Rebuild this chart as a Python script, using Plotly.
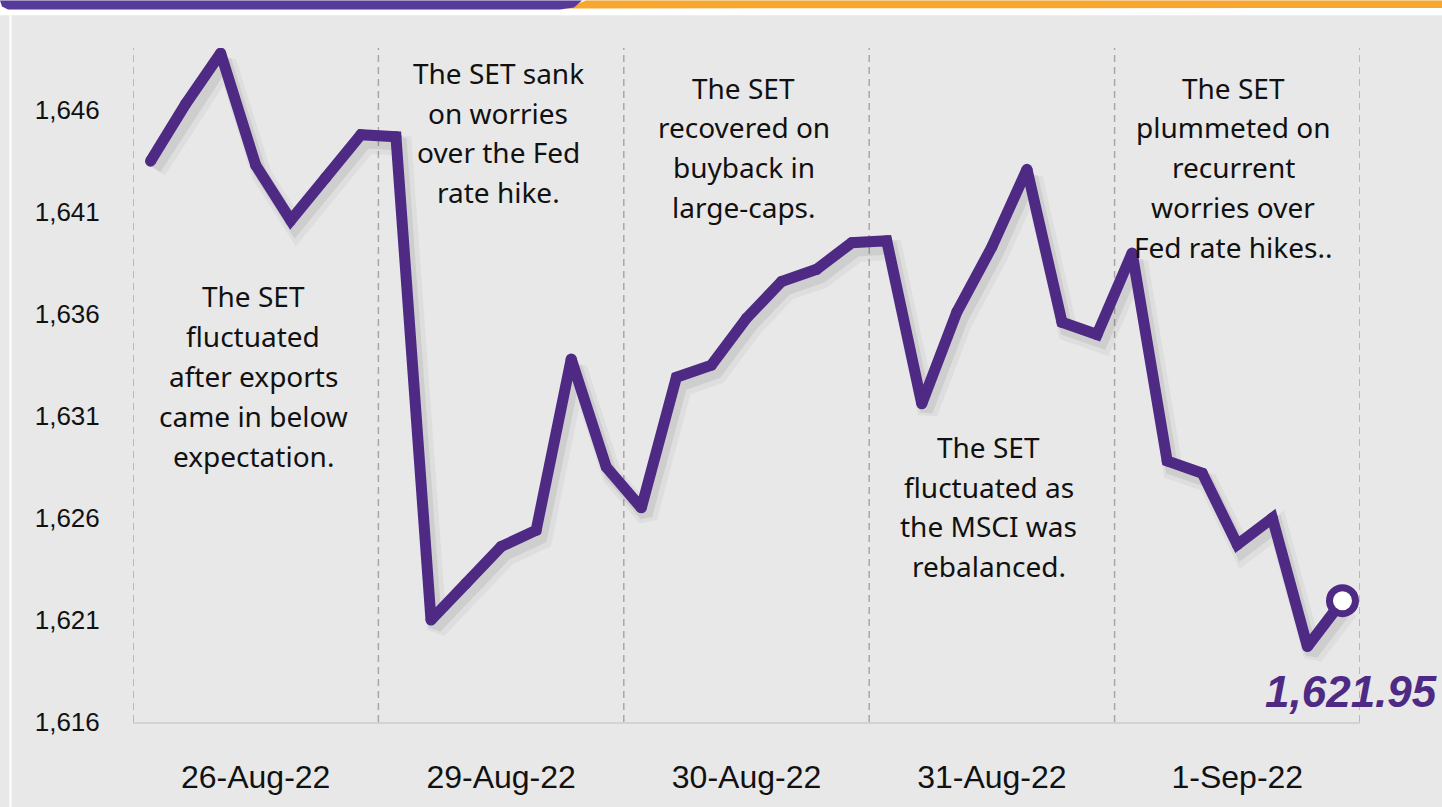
import plotly.graph_objects as go

# ---------------- data ----------------
points = list(range(35))  # 7 intraday readings per trading day
set_index = [
    1643.5, 1646.3, 1648.8, 1643.3, 1640.6, 1642.7, 1644.8,
    1644.7, 1621.0, 1622.8, 1624.6, 1625.4, 1633.8, 1628.5,
    1626.5, 1632.9, 1633.5, 1635.8, 1637.6, 1638.2, 1639.5,
    1639.6, 1631.6, 1636.1, 1639.3, 1643.1, 1635.6, 1635.0,
    1639.0, 1628.8, 1628.2, 1624.7, 1626.0, 1619.7, 1621.95,
]
day_labels = ["26-Aug-22", "29-Aug-22", "30-Aug-22", "31-Aug-22", "1-Sep-22"]
day_centers = [3, 10, 17, 24, 31]
day_bounds = [-0.5, 6.5, 13.5, 20.5, 27.5, 34.5]
y_ticks = [1616, 1621, 1626, 1631, 1636, 1641, 1646]
last_label = "1,621.95"

notes = [
    ["The SET", "fluctuated", "after exports", "came in below", "expectation."],
    ["The SET sank", "on worries", "over the Fed", "rate hike."],
    ["The SET", "recovered on", "buyback in", "large-caps."],
    ["The SET", "fluctuated as", "the MSCI was", "rebalanced."],
    ["The SET", "plummeted on", "recurrent", "worries over", "Fed rate hikes.."],
]

# ---------------- layout geometry (pixels) ----------------
W, H = 1442, 807
L, R, T, B = 133, 1360, 48, 729
PW, PH = R - L, B - T


def px(x):
    return (x - L) / PW


def py(y):
    return (B - y) / PH


PURPLE = "#4e2a84"
BG = "#e8e8e8"

fig = go.Figure()

# soft shadow under the line
for off_x, off_y, w, a in [(0.17, -0.45, 20, 0.04), (0.13, -0.36, 13, 0.07)]:
    fig.add_trace(go.Scatter(
        x=[p + off_x for p in points], y=[v + off_y for v in set_index],
        mode="lines", line=dict(color=f"rgba(0,0,0,{a})", width=w),
        hoverinfo="skip", showlegend=False,
    ))

n = len(points)
fig.add_trace(go.Scatter(
    x=points, y=set_index, mode="lines+markers",
    line=dict(color=PURPLE, width=11),
    marker=dict(
        size=[11] * (n - 1) + [26],
        color=[PURPLE] * (n - 1) + ["#ffffff"],
        opacity=1,
        line=dict(color=PURPLE, width=[0] * (n - 1) + [7]),
    ),
    showlegend=False,
))

shapes = []
# dashed day separators
for b in day_bounds:
    shapes.append(dict(type="line", xref="x", yref="paper", x0=b, x1=b, y0=0, y1=1,
                       line=dict(color="#a8a8a8", width=1.5, dash="7px,5px"), layer="below"))


def path(pts):
    s = "M " + " L ".join(f"{px(x):.5f},{py(y):.5f}" for x, y in pts) + " Z"
    return s


# top white strip
shapes.append(dict(type="rect", xref="paper", yref="paper", x0=px(0), x1=px(W), y0=py(15), y1=py(0),
                   fillcolor="white", line=dict(width=0), layer="below"))
# orange banner
shapes.append(dict(type="path", xref="paper", yref="paper",
                   path=path([(566, 8), (586, 0), (W, 0), (W, 7.5)]),
                   fillcolor="#f9a62d", line=dict(width=0)))
# purple banner
shapes.append(dict(type="path", xref="paper", yref="paper",
                   path=path([(0, 0), (582, 0), (574, 7), (560, 9), (8, 9), (2, 6)]),
                   fillcolor="#553a99", line=dict(width=0)))
# left white border
shapes.append(dict(type="rect", xref="paper", yref="paper", x0=px(9.5), x1=px(11.5), y0=py(W), y1=py(14),
                   fillcolor="white", line=dict(width=0), layer="below"))

annotations = []
note_pos = [(253, 299), (498, 73), (743.5, 88), (988.5, 451), (1233, 88)]
for lines, (cx, cy) in zip(notes, note_pos):
    for k, t in enumerate(lines):
        annotations.append(dict(
            text=t, xref="paper", yref="paper", x=px(cx), y=py(cy + 40.2 * k),
            xanchor="center", yanchor="middle", showarrow=False,
            font=dict(family="Noto Sans, Open Sans, sans-serif", size=28, color="#111111"),
        ))

annotations.append(dict(
    text=f"<b><i>{last_label}</i></b>", xref="paper", yref="paper",
    x=px(1439), y=py(698), xanchor="right", yanchor="middle", showarrow=False,
    font=dict(family="Liberation Sans, Arial, sans-serif", size=44, color=PURPLE),
))

fig.update_layout(
    width=W, height=H,
    margin=dict(l=L, r=W - R, t=T, b=H - B, pad=0),
    paper_bgcolor=BG, plot_bgcolor=BG,
    shapes=shapes, annotations=annotations,
    xaxis=dict(
        range=[-0.5, 34.5], showgrid=False, zeroline=False,
        tickmode="array", tickvals=day_centers, ticktext=day_labels,
        ticks="outside", ticklen=26, tickcolor="rgba(0,0,0,0)",
        showline=True, linecolor="#d3d3d3", linewidth=2,
        tickfont=dict(family="Liberation Sans, Arial, sans-serif", size=32, color="#111111"),
    ),
    yaxis=dict(
        range=[1616, 1649.05], showgrid=False, zeroline=False,
        tickmode="array", tickvals=y_ticks, tickformat=",",
        ticks="outside", ticklen=27, tickcolor="rgba(0,0,0,0)",
        showline=False,
        tickfont=dict(family="Liberation Sans, Arial, sans-serif", size=26, color="#111111"),
    ),
)

fig.write_html(
    "out.html",
    config={"displayModeBar": False},
    post_script="document.body.style.margin='0px';document.body.style.overflow='hidden';",
)
